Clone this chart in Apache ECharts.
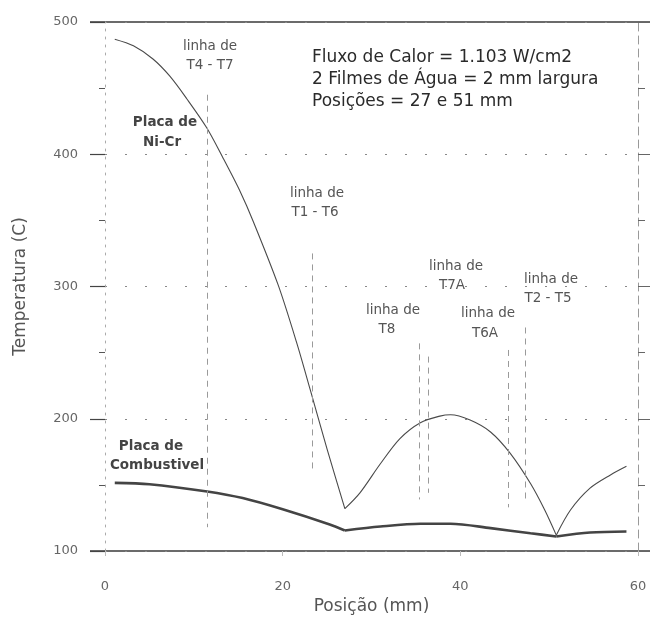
<!DOCTYPE html>
<html><head><meta charset="utf-8">
<script src="https://cdn.jsdelivr.net/npm/echarts@6/dist/echarts.min.js"></script>
<style>html,body{margin:0;padding:0;background:#fff}#c{width:650px;height:617px}</style>
</head><body><div id="c"></div>
<script>
// Placa de Ni-Cr (thin curve): [posição mm, temperatura C]
const niCr = [[1.1,487],[3.2,482],[5.4,472],[7.3,459],[9.2,442],[11.45,420],[13.3,397],[15.2,372],[16.7,349],[19.5,301],[21.6,257],[23.1,222],[25,177],[27,132],
  [28.7,144],[31,166],[33.2,185],[35.5,197],[37.7,202],[38.9,203],[41.1,199],[43.4,190],[45.6,174],[47.9,151],[49.5,131],[50.8,112],
  [52.4,131],[54.6,147.5],[56.9,157.5],[58.7,164]];
// Placa de Combustível (thick curve)
const combustivel = [[1.1,151.5],[5,150.5],[11.5,145],[15.5,140],[20,131.5],[25.3,120],[27,115.5],
  [31,118.5],[35.5,120.6],[38.9,120.6],[43.4,117.3],[47.9,113.4],[50.8,111],
  [54.6,114],[58.7,114.8]];
// reference lines "linha de ..." : [posição, temp top, temp bottom]
const refLines = [[11.5,445,118],[23.3,325,161],[35.4,257,139],[36.4,247,144],[45.4,252,133],[47.3,269,139]];
const xMin = 0, xMax = 60, xStep = 20;
const yMin = 100, yMax = 500, yStep = 100;

function splitAtMinima(arr){
  const segs=[]; let cur=[arr[0]];
  for(let i=1;i<arr.length;i++){
    cur.push(arr[i]);
    if(i<arr.length-1 && arr[i][1]<arr[i-1][1] && arr[i][1]<arr[i+1][1]){ segs.push(cur); cur=[arr[i]]; }
  }
  segs.push(cur); return segs;
}

const FONT = 'DejaVu Sans';
const chart = echarts.init(document.getElementById('c'), null, {renderer:'canvas'});
const series = [];
splitAtMinima(niCr).forEach(s=>series.push({type:'line',data:s,smooth:0.3,showSymbol:false,lineStyle:{color:'#4a4a4a',width:1.1},silent:true}));
splitAtMinima(combustivel).forEach(s=>series.push({type:'line',data:s,smooth:0.3,showSymbol:false,lineStyle:{color:'#444',width:2.6},silent:true}));
series.push({type:'line',data:[],markLine:{symbol:'none',silent:true,label:{show:false},
  lineStyle:{color:'#9a9a9a',type:[6,5],width:1},
  data:refLines.map(r=>[{coord:[r[0],r[1]]},{coord:[r[0],r[2]]}])}});

function txt(x,y,t,opt){
  return {type:'text',x:x,y:y,style:Object.assign({text:t,font:'13px "'+FONT+'"',fill:'#555',align:'center',verticalAlign:'middle'},opt||{})};
}
const labelStyle = {font:'13.5px "'+FONT+'"',fill:'#555'};
const boldStyle = {font:'bold 13.5px "'+FONT+'"',fill:'#444'};
const headStyle = {font:'17px "'+FONT+'"',fill:'#2a2a2a',align:'left'};
const graphics = [
  txt(210,46,'linha de',labelStyle), txt(210,65,'T4 - T7',labelStyle),
  txt(165,122,'Placa de',boldStyle), txt(162,142,'Ni-Cr',boldStyle),
  txt(317,193,'linha de',labelStyle), txt(315,212,'T1 - T6',labelStyle),
  txt(393,310,'linha de',labelStyle), txt(387,329,'T8',labelStyle),
  txt(456,266,'linha de',labelStyle), txt(452,285,'T7A',labelStyle),
  txt(488,313,'linha de',labelStyle), txt(485,333,'T6A',labelStyle),
  txt(551,279,'linha de',labelStyle), txt(548,298,'T2 - T5',labelStyle),
  txt(151,446,'Placa de',boldStyle), txt(157,465,'Combustivel',boldStyle),
  txt(312,58,'Fluxo de Calor = 1.103 W/cm2',headStyle),
  txt(312,80,'2 Filmes de Água = 2 mm largura',headStyle),
  txt(312,102,'Posições = 27 e 51 mm',headStyle)
];

const option = {
  animation:false,
  backgroundColor:'#fff',
  grid:{left:105,right:12,top:22,bottom:66,containLabel:false,outerBoundsMode:'none'},
  xAxis:{type:'value',min:xMin,max:xMax,interval:xStep,
    name:'Posição (mm)',nameLocation:'middle',nameGap:47,
    nameTextStyle:{fontFamily:FONT,fontSize:17,color:'#555'},
    axisLine:{show:false},
    axisTick:{show:true,length:5,lineStyle:{color:'#bbb'}},
    axisLabel:{margin:29,fontFamily:FONT,fontSize:13,color:'#666'},
    splitLine:{show:false}},
  yAxis:[{type:'value',min:yMin,max:yMax,interval:yStep,position:'left',
    name:'Temperatura (C)',nameLocation:'middle',nameGap:76,
    nameTextStyle:{fontFamily:FONT,fontSize:17,color:'#555'},
    axisLine:{show:true,lineStyle:{color:'#aaa',type:[2,6],width:1}},
    axisTick:{show:true,length:15,lineStyle:{color:'#444',width:1.2}},
    minorTick:{show:true,splitNumber:2,length:6,lineStyle:{color:'#555'}},
    axisLabel:{margin:27,fontFamily:FONT,fontSize:13,color:'#666'},
    splitLine:{show:true,lineStyle:{color:'#888',type:[2,18],width:1}}},
   {type:'value',min:yMin,max:yMax,interval:yStep,position:'right',
    axisLine:{show:true,lineStyle:{color:'#999',type:[8,5],width:1}},
    axisTick:{show:true,length:12,lineStyle:{color:'#666'}},
    minorTick:{show:true,splitNumber:2,length:7,lineStyle:{color:'#666'}},
    axisLabel:{show:false},splitLine:{show:false}}],
  series:series,
  graphic:graphics
};
chart.setOption(option);
const yTop = chart.convertToPixel({yAxisIndex:0}, yMax);
const yBot = chart.convertToPixel({yAxisIndex:0}, yMin);
chart.setOption({graphic:graphics.concat([
  {type:'line',shape:{x1:90,y1:yTop,x2:650,y2:yTop},style:{stroke:'#3a3a3a',lineWidth:1.3}},
  {type:'line',shape:{x1:90,y1:yBot,x2:650,y2:yBot},style:{stroke:'#3a3a3a',lineWidth:1.3}}
])});
</script></body></html>
